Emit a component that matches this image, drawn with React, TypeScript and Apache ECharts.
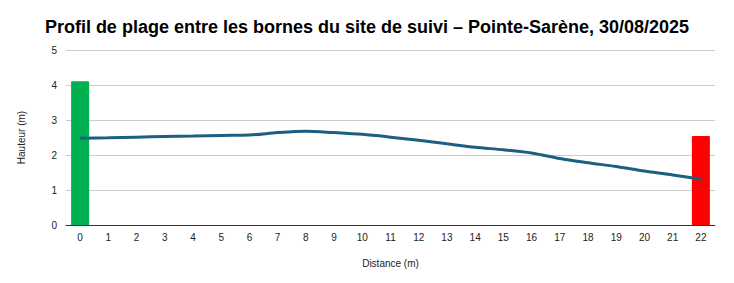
import React, { useEffect, useRef } from "react";
import * as echarts from "echarts";

const distances = ["0","1","2","3","4","5","6","7","8","9","10","11","12","13","14","15","16","17","18","19","20","21","22"];
const profile = [2.48, 2.49, 2.51, 2.53, 2.54, 2.56, 2.57, 2.64, 2.68, 2.64, 2.59, 2.51, 2.42, 2.32, 2.22, 2.15, 2.06, 1.90, 1.78, 1.67, 1.54, 1.43, 1.31];
const borneStart = 4.11;
const borneEnd = 2.54;
const yTicks = [0, 1, 2, 3, 4, 5];

const FONT = "'Liberation Sans', Arial, sans-serif";

export default function App() {
  const ref = useRef<HTMLDivElement>(null);
  useEffect(() => {
    document.body.style.margin = "0";
    if (!ref.current) return;
    const chart = echarts.init(ref.current, null, { renderer: "svg" });
    const bars = distances.map((_, i) => {
      if (i === 0) return { value: borneStart, itemStyle: { color: "#00b050" } };
      if (i === distances.length - 1) return { value: borneEnd, itemStyle: { color: "#ff0000" } };
      return null;
    });
    chart.setOption({
      animation: false,
      backgroundColor: "#ffffff",
      title: {
        text: "Profil de plage entre les bornes du site de suivi – Pointe-Sarène, 30/08/2025",
        left: "center",
        top: 13,
        textStyle: { fontFamily: FONT, fontSize: 18, fontWeight: "bold", color: "#000" },
      },
      grid: { left: 66, right: 19, top: 50, bottom: 58 },
      xAxis: {
        type: "category",
        data: distances,
        boundaryGap: true,
        name: "Distance (m)",
        nameLocation: "middle",
        nameGap: 33,
        nameTextStyle: { fontFamily: FONT, fontSize: 10, color: "#222" },
        axisLine: { lineStyle: { color: "#333", width: 1 } },
        axisTick: { show: false },
        axisLabel: { fontFamily: FONT, fontSize: 10, color: "#222", margin: 7 },
      },
      yAxis: {
        type: "value",
        min: yTicks[0],
        max: yTicks[yTicks.length - 1],
        interval: 1,
        name: "Hauteur (m)",
        nameLocation: "middle",
        nameGap: 40,
        nameTextStyle: { fontFamily: FONT, fontSize: 10, color: "#222" },
        axisLine: { show: false },
        axisTick: { show: false },
        axisLabel: { fontFamily: FONT, fontSize: 10, color: "#222", margin: 9 },
        splitLine: { lineStyle: { color: "#cccccc", width: 1 } },
      },
      series: [
        {
          type: "bar",
          data: bars,
          barWidth: 18,
          barGap: "-100%",
          itemStyle: { borderRadius: [1, 1, 0, 0] },
          z: 2,
        },
        {
          type: "line",
          data: profile,
          smooth: 0.3,
          showSymbol: false,
          symbol: "none",
          lineStyle: { color: "#1b6080", width: 3 },
          z: 3,
        },
      ],
    });
    return () => chart.dispose();
  }, []);
  return <div ref={ref} style={{ width: 734, height: 283 }} />;
}
